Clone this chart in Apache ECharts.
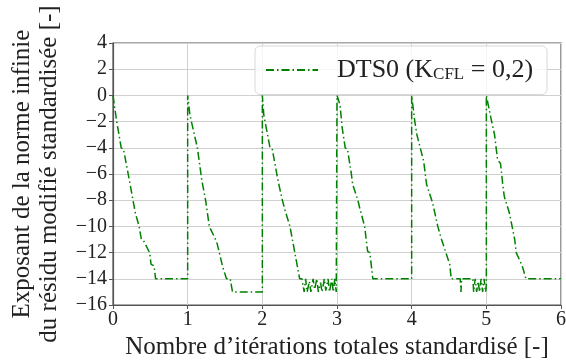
<!DOCTYPE html>
<html>
<head>
<meta charset="utf-8">
<script src="https://cdn.jsdelivr.net/npm/echarts@6/dist/echarts.min.js"></script>
<style>
  html, body { margin: 0; padding: 0; background: #fff; }
  #chart { width: 566px; height: 363px; }
</style>
</head>
<body>
<div id="chart"></div>
<script>
// iterations (standardised) and residual exponent
const iterations = [
  0, 0.05, 0.11, 0.14, 0.22, 0.30, 0.32, 0.35, 0.38, 0.41, 0.49, 0.51, 0.55, 0.57, 1.0,
  1.0, 1.03, 1.09, 1.13, 1.19, 1.24, 1.29, 1.39, 1.47, 1.52, 1.57, 1.60, 2.0,
  2.0, 2.02, 2.10, 2.13, 2.21, 2.26, 2.30, 2.37, 2.50, 2.53, 2.56, 2.58, 2.60, 2.63, 2.65, 2.68, 2.70,
  2.73, 2.75, 2.78, 2.80, 2.83, 2.85, 2.88, 2.90, 2.93, 2.95, 2.97, 2.99, 3.0,
  3.0, 3.04, 3.07, 3.11, 3.14, 3.19, 3.21, 3.28, 3.30, 3.37, 3.41, 3.44, 3.48, 4.0,
  4.0, 4.04, 4.07, 4.11, 4.16, 4.20, 4.28, 4.35, 4.40, 4.51, 4.53, 4.65, 4.66, 4.67, 4.82, 4.83,
  4.85, 4.87, 4.89, 4.91, 4.93, 4.95, 4.97, 4.99, 5.0,
  5.0, 5.06, 5.11, 5.15, 5.19, 5.22, 5.24, 5.31, 5.38, 5.40, 5.48, 5.53, 6.0
];
const exponent = [
  0, -2, -4, -4.1, -6.5, -9.0, -9.1, -10, -11, -11.1, -12, -12.9, -13, -14, -14,
  0, -1.5, -3, -4, -6.5, -8, -10, -11.2, -13.1, -14, -14, -15, -15,
  0, -1.5, -3.9, -4, -6.5, -7.8, -8.7, -10, -14, -14, -15, -14, -15, -14.2, -15, -14, -14.8,
  -14, -15, -14.3, -15, -14, -14.9, -14, -15, -14, -15, -14, -15, -15,
  0, -0.7, -2.5, -4, -4.1, -5.9, -6.8, -8, -8.5, -10, -11.9, -12, -14, -14,
  0, -1.9, -3, -3.9, -5, -6.8, -8.2, -10, -11, -12.9, -14, -14, -15, -14, -14, -15,
  -14, -15, -14.2, -15, -14, -15, -14, -15, -14.5,
  0, -1.7, -3, -4.9, -5.2, -6.8, -7.7, -9, -11, -12, -13, -14, -14
];
const xTicks = [0, 6, 1];     // min, max, step
const yTicks = [-16, 4, 2];
const seriesName = 'DTS0 (KCFL = 0,2)';

const font = '"Liberation Serif", "DejaVu Serif", serif';
const minus = v => String(v).replace('-', '\u2212');

const chart = echarts.init(document.getElementById('chart'), null, { renderer: 'canvas' });
const option = {
  animation: false,
  textStyle: { fontFamily: font },
  grid: {
    left: 113, right: 5, top: 43, bottom: 58,
    containLabel: false, outerBoundsMode: 'none',
    show: true, borderColor: '#555', borderWidth: 1.2, backgroundColor: 'transparent'
  },
  legend: {
    left: 255, top: 46,
    padding: [11, 14, 11, 10],
    itemWidth: 52, itemHeight: 14,
    backgroundColor: 'rgba(255,255,255,0.8)',
    borderColor: '#d8d8d8', borderWidth: 1, borderRadius: 5,
    itemStyle: { opacity: 0 },
    formatter: () => 'DTS0 (K{sub|CFL} = 0,2)',
    textStyle: {
      fontFamily: font, fontSize: 26, color: '#222',
      padding: [0, 0, 0, 14],
      rich: {
        sub: { fontFamily: font, fontSize: 17, color: '#222', padding: [10, 0, 0, 0] }
      }
    },
    data: [seriesName]
  },
  xAxis: {
    type: 'value',
    min: xTicks[0], max: xTicks[1], interval: xTicks[2],
    name: 'Nombre d\u2019itérations totales standardisé [-]',
    nameLocation: 'middle', nameGap: 22,
    nameTextStyle: { fontFamily: font, fontSize: 25, color: '#222' },
    axisLine: { show: true, onZero: false, lineStyle: { color: '#555', width: 1.2 } },
    axisTick: { show: true, inside: false, length: 4, lineStyle: { color: '#555' } },
    axisLabel: { fontFamily: font, fontSize: 20, color: '#222', margin: 5 },
    splitLine: { show: true, lineStyle: { color: '#d0d0d0', width: 1 } }
  },
  yAxis: {
    type: 'value',
    min: yTicks[0], max: yTicks[1], interval: yTicks[2],
    name: 'Exposant de la norme infinie\ndu résidu modifié standardisée [-]',
    nameLocation: 'middle', nameGap: 50, nameRotate: 90,
    nameTextStyle: { fontFamily: font, fontSize: 25, color: '#222', lineHeight: 27 },
    axisLine: { show: true, onZero: false, lineStyle: { color: '#555', width: 1.2 } },
    axisTick: { show: true, inside: false, length: 4, lineStyle: { color: '#555' } },
    axisLabel: { fontFamily: font, fontSize: 20, color: '#222', margin: 6, formatter: minus },
    splitLine: { show: true, lineStyle: { color: '#d0d0d0', width: 1 } }
  },
  series: [{
    name: seriesName,
    type: 'line',
    symbol: 'none',
    data: iterations.map((x, i) => [x, exponent[i]]),
    lineStyle: { color: 'green', width: 1.5, type: [8, 3, 1.5, 3] },
    itemStyle: { color: 'green' }
  }]
};
chart.setOption(option);
</script>
</body>
</html>
